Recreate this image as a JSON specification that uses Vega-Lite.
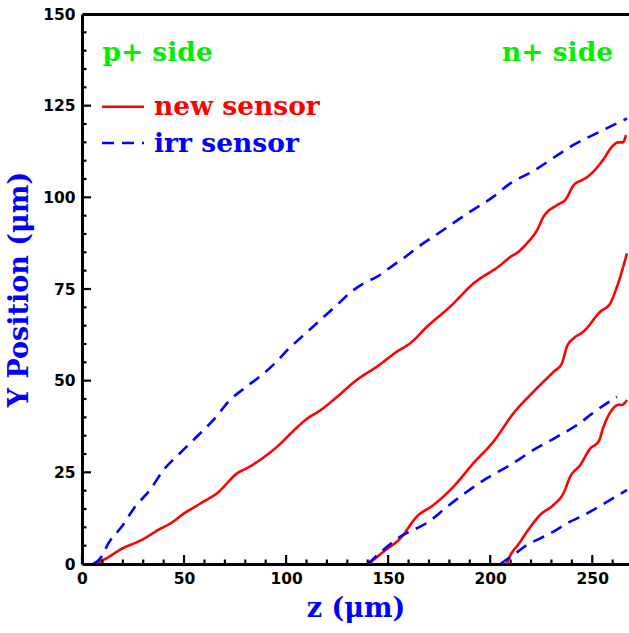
{
  "$schema": "https://vega.github.io/schema/vega-lite/v6.json",
  "width": 547,
  "height": 550,
  "autosize": {"type": "none"},
  "padding": {"left": 82, "top": 14, "right": 0, "bottom": 69},
  "background": "white",
  "config": {"view": {"stroke": null}},
  "datasets": {
    "curves": [
      {"curve": "new1", "type": "new sensor", "z": 5.5, "y": 0},
      {"curve": "new1", "type": "new sensor", "z": 10.4, "y": 1.1},
      {"curve": "new1", "type": "new sensor", "z": 20, "y": 4.3},
      {"curve": "new1", "type": "new sensor", "z": 29, "y": 6.5},
      {"curve": "new1", "type": "new sensor", "z": 38, "y": 9.5},
      {"curve": "new1", "type": "new sensor", "z": 44, "y": 11.3},
      {"curve": "new1", "type": "new sensor", "z": 50, "y": 13.8},
      {"curve": "new1", "type": "new sensor", "z": 58, "y": 16.5},
      {"curve": "new1", "type": "new sensor", "z": 67.6, "y": 20},
      {"curve": "new1", "type": "new sensor", "z": 71, "y": 22},
      {"curve": "new1", "type": "new sensor", "z": 75, "y": 24.3},
      {"curve": "new1", "type": "new sensor", "z": 82, "y": 26.5},
      {"curve": "new1", "type": "new sensor", "z": 90.5, "y": 29.7},
      {"curve": "new1", "type": "new sensor", "z": 97, "y": 32.7},
      {"curve": "new1", "type": "new sensor", "z": 103, "y": 36},
      {"curve": "new1", "type": "new sensor", "z": 110, "y": 39.5},
      {"curve": "new1", "type": "new sensor", "z": 117, "y": 42},
      {"curve": "new1", "type": "new sensor", "z": 125, "y": 45.6},
      {"curve": "new1", "type": "new sensor", "z": 134.6, "y": 50.2},
      {"curve": "new1", "type": "new sensor", "z": 144.4, "y": 53.8},
      {"curve": "new1", "type": "new sensor", "z": 154.3, "y": 57.9},
      {"curve": "new1", "type": "new sensor", "z": 160.8, "y": 60.2},
      {"curve": "new1", "type": "new sensor", "z": 169, "y": 64.7},
      {"curve": "new1", "type": "new sensor", "z": 180.4, "y": 70.2},
      {"curve": "new1", "type": "new sensor", "z": 191.8, "y": 76.5},
      {"curve": "new1", "type": "new sensor", "z": 205, "y": 81.5},
      {"curve": "new1", "type": "new sensor", "z": 210, "y": 83.8},
      {"curve": "new1", "type": "new sensor", "z": 214, "y": 85.2},
      {"curve": "new1", "type": "new sensor", "z": 218, "y": 87.5},
      {"curve": "new1", "type": "new sensor", "z": 223, "y": 91.1},
      {"curve": "new1", "type": "new sensor", "z": 226, "y": 94.6},
      {"curve": "new1", "type": "new sensor", "z": 232.8, "y": 97.9},
      {"curve": "new1", "type": "new sensor", "z": 236.8, "y": 99.3},
      {"curve": "new1", "type": "new sensor", "z": 241, "y": 103.4},
      {"curve": "new1", "type": "new sensor", "z": 245, "y": 104.7},
      {"curve": "new1", "type": "new sensor", "z": 247.5, "y": 105.5},
      {"curve": "new1", "type": "new sensor", "z": 255, "y": 110},
      {"curve": "new1", "type": "new sensor", "z": 260, "y": 114},
      {"curve": "new1", "type": "new sensor", "z": 262.7, "y": 115},
      {"curve": "new1", "type": "new sensor", "z": 265, "y": 115},
      {"curve": "new1", "type": "new sensor", "z": 266.5, "y": 117},
      {"curve": "new2", "type": "new sensor", "z": 140.5, "y": 0},
      {"curve": "new2", "type": "new sensor", "z": 148, "y": 3.5},
      {"curve": "new2", "type": "new sensor", "z": 156, "y": 7},
      {"curve": "new2", "type": "new sensor", "z": 164, "y": 12.9},
      {"curve": "new2", "type": "new sensor", "z": 172.2, "y": 16.1},
      {"curve": "new2", "type": "new sensor", "z": 182, "y": 21.1},
      {"curve": "new2", "type": "new sensor", "z": 191.8, "y": 27.5},
      {"curve": "new2", "type": "new sensor", "z": 201.6, "y": 33.4},
      {"curve": "new2", "type": "new sensor", "z": 211.4, "y": 41.1},
      {"curve": "new2", "type": "new sensor", "z": 221.2, "y": 47},
      {"curve": "new2", "type": "new sensor", "z": 231, "y": 52.4},
      {"curve": "new2", "type": "new sensor", "z": 235.1, "y": 54.7},
      {"curve": "new2", "type": "new sensor", "z": 237.6, "y": 59.3},
      {"curve": "new2", "type": "new sensor", "z": 240.8, "y": 61.5},
      {"curve": "new2", "type": "new sensor", "z": 245.7, "y": 63.4},
      {"curve": "new2", "type": "new sensor", "z": 253.9, "y": 68.8},
      {"curve": "new2", "type": "new sensor", "z": 258.8, "y": 71.1},
      {"curve": "new2", "type": "new sensor", "z": 262.1, "y": 75.6},
      {"curve": "new2", "type": "new sensor", "z": 267, "y": 84.7},
      {"curve": "new3", "type": "new sensor", "z": 208, "y": 0},
      {"curve": "new3", "type": "new sensor", "z": 210, "y": 2.5},
      {"curve": "new3", "type": "new sensor", "z": 214, "y": 5.5},
      {"curve": "new3", "type": "new sensor", "z": 218, "y": 8.8},
      {"curve": "new3", "type": "new sensor", "z": 224.5, "y": 13.4},
      {"curve": "new3", "type": "new sensor", "z": 231, "y": 16.1},
      {"curve": "new3", "type": "new sensor", "z": 235.9, "y": 19.3},
      {"curve": "new3", "type": "new sensor", "z": 239.2, "y": 23.8},
      {"curve": "new3", "type": "new sensor", "z": 244.1, "y": 27},
      {"curve": "new3", "type": "new sensor", "z": 249, "y": 31.5},
      {"curve": "new3", "type": "new sensor", "z": 253.1, "y": 33.4},
      {"curve": "new3", "type": "new sensor", "z": 255.5, "y": 37.4},
      {"curve": "new3", "type": "new sensor", "z": 259.6, "y": 42},
      {"curve": "new3", "type": "new sensor", "z": 262.9, "y": 43.4},
      {"curve": "new3", "type": "new sensor", "z": 264.5, "y": 43.4},
      {"curve": "new3", "type": "new sensor", "z": 267, "y": 44.7},
      {"curve": "irr1", "type": "irr sensor", "z": 5.5, "y": 0},
      {"curve": "irr1", "type": "irr sensor", "z": 9.6, "y": 2},
      {"curve": "irr1", "type": "irr sensor", "z": 12.9, "y": 5.6},
      {"curve": "irr1", "type": "irr sensor", "z": 19.5, "y": 10.2},
      {"curve": "irr1", "type": "irr sensor", "z": 26, "y": 15.6},
      {"curve": "irr1", "type": "irr sensor", "z": 33.3, "y": 20.2},
      {"curve": "irr1", "type": "irr sensor", "z": 39.9, "y": 25.6},
      {"curve": "irr1", "type": "irr sensor", "z": 48, "y": 30.2},
      {"curve": "irr1", "type": "irr sensor", "z": 56.2, "y": 34.7},
      {"curve": "irr1", "type": "irr sensor", "z": 64.4, "y": 39.3},
      {"curve": "irr1", "type": "irr sensor", "z": 72.5, "y": 44.7},
      {"curve": "irr1", "type": "irr sensor", "z": 80.7, "y": 48.4},
      {"curve": "irr1", "type": "irr sensor", "z": 88, "y": 51.5},
      {"curve": "irr1", "type": "irr sensor", "z": 95, "y": 55},
      {"curve": "irr1", "type": "irr sensor", "z": 100, "y": 58},
      {"curve": "irr1", "type": "irr sensor", "z": 107.7, "y": 62},
      {"curve": "irr1", "type": "irr sensor", "z": 116.7, "y": 66.5},
      {"curve": "irr1", "type": "irr sensor", "z": 124.8, "y": 70.6},
      {"curve": "irr1", "type": "irr sensor", "z": 133, "y": 74.7},
      {"curve": "irr1", "type": "irr sensor", "z": 137.9, "y": 76.5},
      {"curve": "irr1", "type": "irr sensor", "z": 144.4, "y": 78.3},
      {"curve": "irr1", "type": "irr sensor", "z": 152.6, "y": 81.5},
      {"curve": "irr1", "type": "irr sensor", "z": 157.5, "y": 83.4},
      {"curve": "irr1", "type": "irr sensor", "z": 167.3, "y": 87.5},
      {"curve": "irr1", "type": "irr sensor", "z": 172.2, "y": 89.3},
      {"curve": "irr1", "type": "irr sensor", "z": 190.2, "y": 96.1},
      {"curve": "irr1", "type": "irr sensor", "z": 201.6, "y": 100.2},
      {"curve": "irr1", "type": "irr sensor", "z": 209.8, "y": 103.8},
      {"curve": "irr1", "type": "irr sensor", "z": 221.2, "y": 107.2},
      {"curve": "irr1", "type": "irr sensor", "z": 234.3, "y": 112},
      {"curve": "irr1", "type": "irr sensor", "z": 240.8, "y": 114.3},
      {"curve": "irr1", "type": "irr sensor", "z": 252.3, "y": 117.5},
      {"curve": "irr1", "type": "irr sensor", "z": 267, "y": 121.5},
      {"curve": "irr2", "type": "irr sensor", "z": 140, "y": 0},
      {"curve": "irr2", "type": "irr sensor", "z": 148, "y": 4},
      {"curve": "irr2", "type": "irr sensor", "z": 156, "y": 7.5},
      {"curve": "irr2", "type": "irr sensor", "z": 159, "y": 8.4},
      {"curve": "irr2", "type": "irr sensor", "z": 169.8, "y": 11.5},
      {"curve": "irr2", "type": "irr sensor", "z": 178.8, "y": 15.6},
      {"curve": "irr2", "type": "irr sensor", "z": 188.6, "y": 19.7},
      {"curve": "irr2", "type": "irr sensor", "z": 198.4, "y": 23.4},
      {"curve": "irr2", "type": "irr sensor", "z": 209.8, "y": 27},
      {"curve": "irr2", "type": "irr sensor", "z": 221.2, "y": 31.1},
      {"curve": "irr2", "type": "irr sensor", "z": 232.7, "y": 34.7},
      {"curve": "irr2", "type": "irr sensor", "z": 242.5, "y": 37.9},
      {"curve": "irr2", "type": "irr sensor", "z": 252.3, "y": 42},
      {"curve": "irr2", "type": "irr sensor", "z": 262.1, "y": 45.6},
      {"curve": "irr3", "type": "irr sensor", "z": 204.9, "y": 0},
      {"curve": "irr3", "type": "irr sensor", "z": 211.4, "y": 2.5},
      {"curve": "irr3", "type": "irr sensor", "z": 218, "y": 5.2},
      {"curve": "irr3", "type": "irr sensor", "z": 224.5, "y": 7},
      {"curve": "irr3", "type": "irr sensor", "z": 231, "y": 8.8},
      {"curve": "irr3", "type": "irr sensor", "z": 237.6, "y": 11.1},
      {"curve": "irr3", "type": "irr sensor", "z": 247.5, "y": 13.8},
      {"curve": "irr3", "type": "irr sensor", "z": 257.4, "y": 17},
      {"curve": "irr3", "type": "irr sensor", "z": 267, "y": 20.2}
    ],
    "xTicks": [
      {"z": 0, "kind": "major"}, {"z": 50, "kind": "major"}, {"z": 100, "kind": "major"},
      {"z": 150, "kind": "major"}, {"z": 200, "kind": "major"}, {"z": 250, "kind": "major"},
      {"z": 10, "kind": "minor"}, {"z": 20, "kind": "minor"}, {"z": 30, "kind": "minor"}, {"z": 40, "kind": "minor"},
      {"z": 60, "kind": "minor"}, {"z": 70, "kind": "minor"}, {"z": 80, "kind": "minor"}, {"z": 90, "kind": "minor"},
      {"z": 110, "kind": "minor"}, {"z": 120, "kind": "minor"}, {"z": 130, "kind": "minor"}, {"z": 140, "kind": "minor"},
      {"z": 160, "kind": "minor"}, {"z": 170, "kind": "minor"}, {"z": 180, "kind": "minor"}, {"z": 190, "kind": "minor"},
      {"z": 210, "kind": "minor"}, {"z": 220, "kind": "minor"}, {"z": 230, "kind": "minor"}, {"z": 240, "kind": "minor"},
      {"z": 260, "kind": "minor"}
    ],
    "yTicks": [
      {"y": 25, "kind": "major"}, {"y": 50, "kind": "major"}, {"y": 75, "kind": "major"},
      {"y": 100, "kind": "major"}, {"y": 125, "kind": "major"},
      {"y": 5, "kind": "minor"}, {"y": 10, "kind": "minor"}, {"y": 15, "kind": "minor"}, {"y": 20, "kind": "minor"},
      {"y": 30, "kind": "minor"}, {"y": 35, "kind": "minor"}, {"y": 40, "kind": "minor"}, {"y": 45, "kind": "minor"},
      {"y": 55, "kind": "minor"}, {"y": 60, "kind": "minor"}, {"y": 65, "kind": "minor"}, {"y": 70, "kind": "minor"},
      {"y": 80, "kind": "minor"}, {"y": 85, "kind": "minor"}, {"y": 90, "kind": "minor"}, {"y": 95, "kind": "minor"},
      {"y": 105, "kind": "minor"}, {"y": 110, "kind": "minor"}, {"y": 115, "kind": "minor"}, {"y": 120, "kind": "minor"},
      {"y": 130, "kind": "minor"}, {"y": 135, "kind": "minor"}, {"y": 140, "kind": "minor"}, {"y": 145, "kind": "minor"}
    ],
    "legendLines": [
      {"type": "new sensor", "z": 9.8, "z2": 30.4, "y": 124.7},
      {"type": "irr sensor", "z": 9.8, "z2": 30.4, "y": 114.8}
    ],
    "legendText": [
      {"type": "new sensor", "label": "new sensor", "z": 35.3, "y": 122.4},
      {"type": "irr sensor", "label": "irr sensor", "z": 35.3, "y": 112.5}
    ],
    "sideText": [
      {"label": "p+ side", "z": 10, "y": 137.3},
      {"label": "n+ side", "z": 260.2, "y": 137.3}
    ]
  },
  "resolve": {"axis": {"x": "independent", "y": "independent"}},
  "layer": [
    {
      "data": {"name": "curves"},
      "mark": {"type": "line", "strokeWidth": 2.6, "interpolate": "monotone", "clip": true},
      "encoding": {
        "x": {
          "field": "z", "type": "quantitative",
          "scale": {"domain": [0, 268], "nice": false, "zero": false},
          "axis": {
            "orient": "bottom", "values": [0, 50, 100, 150, 200, 250], "ticks": false, "grid": false,
            "domain": true, "domainColor": "black", "domainWidth": 3,
            "labelFont": "DejaVu Sans", "labelFontWeight": "bold", "labelFontSize": 15.5, "labelColor": "black",
            "labelPadding": 7, "labelBaseline": "top", "labelFlush": false,
            "title": "z (μm)", "titleFont": "DejaVu Serif", "titleFontWeight": "bold", "titleFontSize": 27,
            "titleColor": "#0000ff", "titlePadding": 9
          }
        },
        "y": {
          "field": "y", "type": "quantitative",
          "scale": {"domain": [0, 150], "nice": false, "zero": false},
          "axis": {
            "orient": "left", "values": [0, 25, 50, 75, 100, 125, 150], "ticks": false, "grid": false,
            "domain": true, "domainColor": "black", "domainWidth": 3,
            "labelFont": "DejaVu Sans", "labelFontWeight": "bold", "labelFontSize": 15.5, "labelColor": "black",
            "labelPadding": 7, "labelFlush": false,
            "title": "Y Position (μm)", "titleFont": "DejaVu Serif", "titleFontWeight": "bold", "titleFontSize": 27,
            "titleColor": "#0000ff", "titlePadding": 9
          }
        },
        "detail": {"field": "curve"},
        "color": {
          "field": "type", "type": "nominal",
          "scale": {"domain": ["new sensor", "irr sensor"], "range": ["#ff0000", "#0000ff"]},
          "legend": null
        },
        "strokeDash": {
          "field": "type", "type": "nominal",
          "scale": {"domain": ["new sensor", "irr sensor"], "range": [[1, 0], [12, 8]]},
          "legend": null
        }
      }
    },
    {
      "data": {"name": "curves"},
      "mark": {"type": "line", "strokeOpacity": 0},
      "encoding": {
        "x": {
          "field": "z", "type": "quantitative",
          "axis": {
            "orient": "top", "ticks": false, "labels": false, "domain": true, "domainColor": "black",
            "domainWidth": 3, "grid": false, "title": null
          }
        },
        "y": {"field": "y", "type": "quantitative", "axis": null},
        "detail": {"field": "curve"}
      }
    },
    {
      "data": {"name": "xTicks"},
      "transform": [{"filter": "datum.kind === 'major'"}],
      "mark": {"type": "tick", "orient": "vertical", "size": 9, "thickness": 2.2, "color": "black", "opacity": 1, "yOffset": -4.5},
      "encoding": {
        "x": {"field": "z", "type": "quantitative", "axis": null},
        "y": {"datum": 0, "type": "quantitative", "axis": null}
      }
    },
    {
      "data": {"name": "xTicks"},
      "transform": [{"filter": "datum.kind === 'minor'"}],
      "mark": {"type": "tick", "orient": "vertical", "size": 4.5, "thickness": 2.2, "color": "black", "opacity": 1, "yOffset": -2.25},
      "encoding": {
        "x": {"field": "z", "type": "quantitative", "axis": null},
        "y": {"datum": 0, "type": "quantitative", "axis": null}
      }
    },
    {
      "data": {"name": "yTicks"},
      "transform": [{"filter": "datum.kind === 'major'"}],
      "mark": {"type": "tick", "orient": "horizontal", "size": 9, "thickness": 2.2, "color": "black", "opacity": 1, "xOffset": 4.5},
      "encoding": {
        "y": {"field": "y", "type": "quantitative", "axis": null},
        "x": {"datum": 0, "type": "quantitative", "axis": null}
      }
    },
    {
      "data": {"name": "yTicks"},
      "transform": [{"filter": "datum.kind === 'minor'"}],
      "mark": {"type": "tick", "orient": "horizontal", "size": 4.5, "thickness": 2.2, "color": "black", "opacity": 1, "xOffset": 2.25},
      "encoding": {
        "y": {"field": "y", "type": "quantitative", "axis": null},
        "x": {"datum": 0, "type": "quantitative", "axis": null}
      }
    },
    {
      "data": {"name": "legendLines"},
      "mark": {"type": "rule", "strokeWidth": 2.6},
      "encoding": {
        "x": {"field": "z", "type": "quantitative", "axis": null},
        "x2": {"field": "z2"},
        "y": {"field": "y", "type": "quantitative", "axis": null},
        "color": {"field": "type", "type": "nominal", "legend": null},
        "strokeDash": {"field": "type", "type": "nominal", "legend": null}
      }
    },
    {
      "data": {"name": "legendText"},
      "mark": {"type": "text", "align": "left", "baseline": "alphabetic", "font": "DejaVu Serif", "fontWeight": "bold", "fontSize": 26.5},
      "encoding": {
        "x": {"field": "z", "type": "quantitative", "axis": null},
        "y": {"field": "y", "type": "quantitative", "axis": null},
        "text": {"field": "label"},
        "color": {"field": "type", "type": "nominal", "legend": null}
      }
    },
    {
      "data": {"name": "sideText"},
      "transform": [{"filter": "datum.label === 'p+ side'"}],
      "mark": {"type": "text", "align": "left", "baseline": "alphabetic", "font": "DejaVu Serif", "fontWeight": "bold", "fontSize": 26.5, "color": "#00ee00"},
      "encoding": {
        "x": {"field": "z", "type": "quantitative", "axis": null},
        "y": {"field": "y", "type": "quantitative", "axis": null},
        "text": {"field": "label"}
      }
    },
    {
      "data": {"name": "sideText"},
      "transform": [{"filter": "datum.label === 'n+ side'"}],
      "mark": {"type": "text", "align": "right", "baseline": "alphabetic", "font": "DejaVu Serif", "fontWeight": "bold", "fontSize": 26.5, "color": "#00ee00"},
      "encoding": {
        "x": {"field": "z", "type": "quantitative", "axis": null},
        "y": {"field": "y", "type": "quantitative", "axis": null},
        "text": {"field": "label"}
      }
    }
  ]
}
